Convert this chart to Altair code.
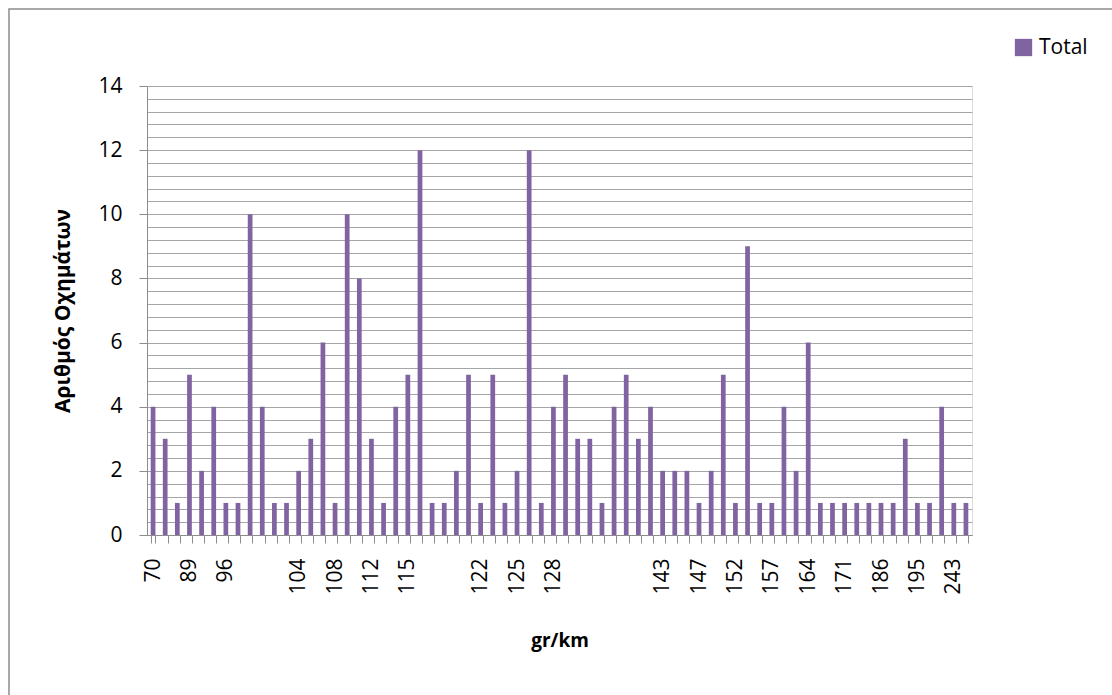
import altair as alt
import pandas as pd

# gr/km categories (68 bars); only some labels are shown on the axis
categories = [
    "70", "78", "86", "89", "92", "94", "96", "97", "98", "100",
    "101", "102", "104", "105", "106", "108", "109", "110", "112", "113",
    "114", "115", "116", "117", "118", "119", "120", "122", "123", "124",
    "125", "126", "127", "128", "129", "130", "131", "133", "134", "136",
    "138", "140", "143", "144", "145", "147", "148", "149", "152", "153",
    "155", "157", "158", "160", "164", "165", "169", "171", "175", "180",
    "186", "189", "192", "195", "200", "210", "243", "250",
]
counts = [
    4, 3, 1, 5, 2, 4, 1, 1, 10, 4,
    1, 1, 2, 3, 6, 1, 10, 8, 3, 1,
    4, 5, 12, 1, 1, 2, 5, 1, 5, 1,
    2, 12, 1, 4, 5, 3, 3, 1, 4, 5,
    3, 4, 2, 2, 2, 1, 2, 5, 1, 9,
    1, 1, 4, 2, 6, 1, 1, 1, 1, 1,
    1, 1, 3, 1, 1, 4, 1, 1,
]
shown_labels = ["70", "89", "96", "104", "108", "112", "115", "122", "125", "128",
                "143", "147", "152", "157", "164", "171", "186", "195", "243"]
series_name = "Total"

df = pd.DataFrame({"gr": categories, "count": counts, "series": [series_name] * len(categories)})

FONT = "Open Sans"
GRID = "#a6a6a6"
AXIS = "#8c8c8c"
PURPLE = "#8064A2"

grid_vals = [round(k * 0.4, 1) for k in range(0, 36)]
label_list = "[" + ",".join("'%s'" % s for s in shown_labels) + "]"

bars = alt.Chart(df).mark_bar(color=PURPLE).encode(
    x=alt.X(
        "gr:N",
        sort=categories,
        scale=alt.Scale(paddingInner=0.61, paddingOuter=0.305),
        axis=alt.Axis(
            title="gr/km",
            titleFont=FONT, titleFontSize=19, titleFontWeight="bold", titleColor="black",
            titleBaseline="alphabetic", titleY=111,
            labelAngle=270, labelFont=FONT, labelFontSize=21, labelColor="black",
            labelOverlap=False, labelPadding=15,
            labelExpr="indexof(" + label_list + ", datum.label) >= 0 ? datum.label : ''",
            tickBand="extent", tickSize=8, tickColor=AXIS, domainColor=AXIS,
            grid=False,
        ),
    ),
    y=alt.Y(
        "count:Q",
        scale=alt.Scale(domain=[0, 14], nice=False),
        axis=alt.Axis(
            title="Αριθμός Οχημάτων",
            titleFont=FONT, titleFontSize=21, titleFontWeight="bold", titleColor="black",
            titleBaseline="middle", titleX=-84, titleAngle=270,
            values=grid_vals,
            labelExpr="datum.value % 2 === 0 ? format(datum.value, 'd') : ''",
            labelFont=FONT, labelFontSize=21, labelColor="black",
            labelOverlap=False, labelPadding=17,
            tickSize=8, tickColor=AXIS, domainColor=AXIS,
            tickOpacity={"condition": {"test": "datum.value % 2 === 0", "value": 1}, "value": 0},
            grid=True, gridColor=GRID, gridWidth=1,
        ),
    ),
    color=alt.Color(
        "series:N",
        scale=alt.Scale(range=[PURPLE]),
        legend=alt.Legend(
            title=None, orient="none", legendX=866, legendY=-49, padding=0,
            symbolType="square", symbolSize=300, symbolStrokeWidth=0,
            labelFont=FONT, labelFontSize=21, labelColor="black", labelOffset=5,
        ),
    ),
)

border = alt.Chart(pd.DataFrame({"b": [0]})).mark_rect(
    fill="transparent", stroke=AXIS, strokeWidth=1.5
).encode(
    x=alt.value(-138), x2=alt.value(975), y=alt.value(-77), y2=alt.value(620)
)

chart = alt.layer(border, bars).properties(
    width=825, height=449,
    autosize=alt.AutoSizeParams(type="none"),
    padding={"left": 147, "top": 86, "right": 140, "bottom": 160},
).configure_view(stroke=None).configure(background="white")

chart.save("out.html", embed_options={"renderer": "svg", "actions": False})
